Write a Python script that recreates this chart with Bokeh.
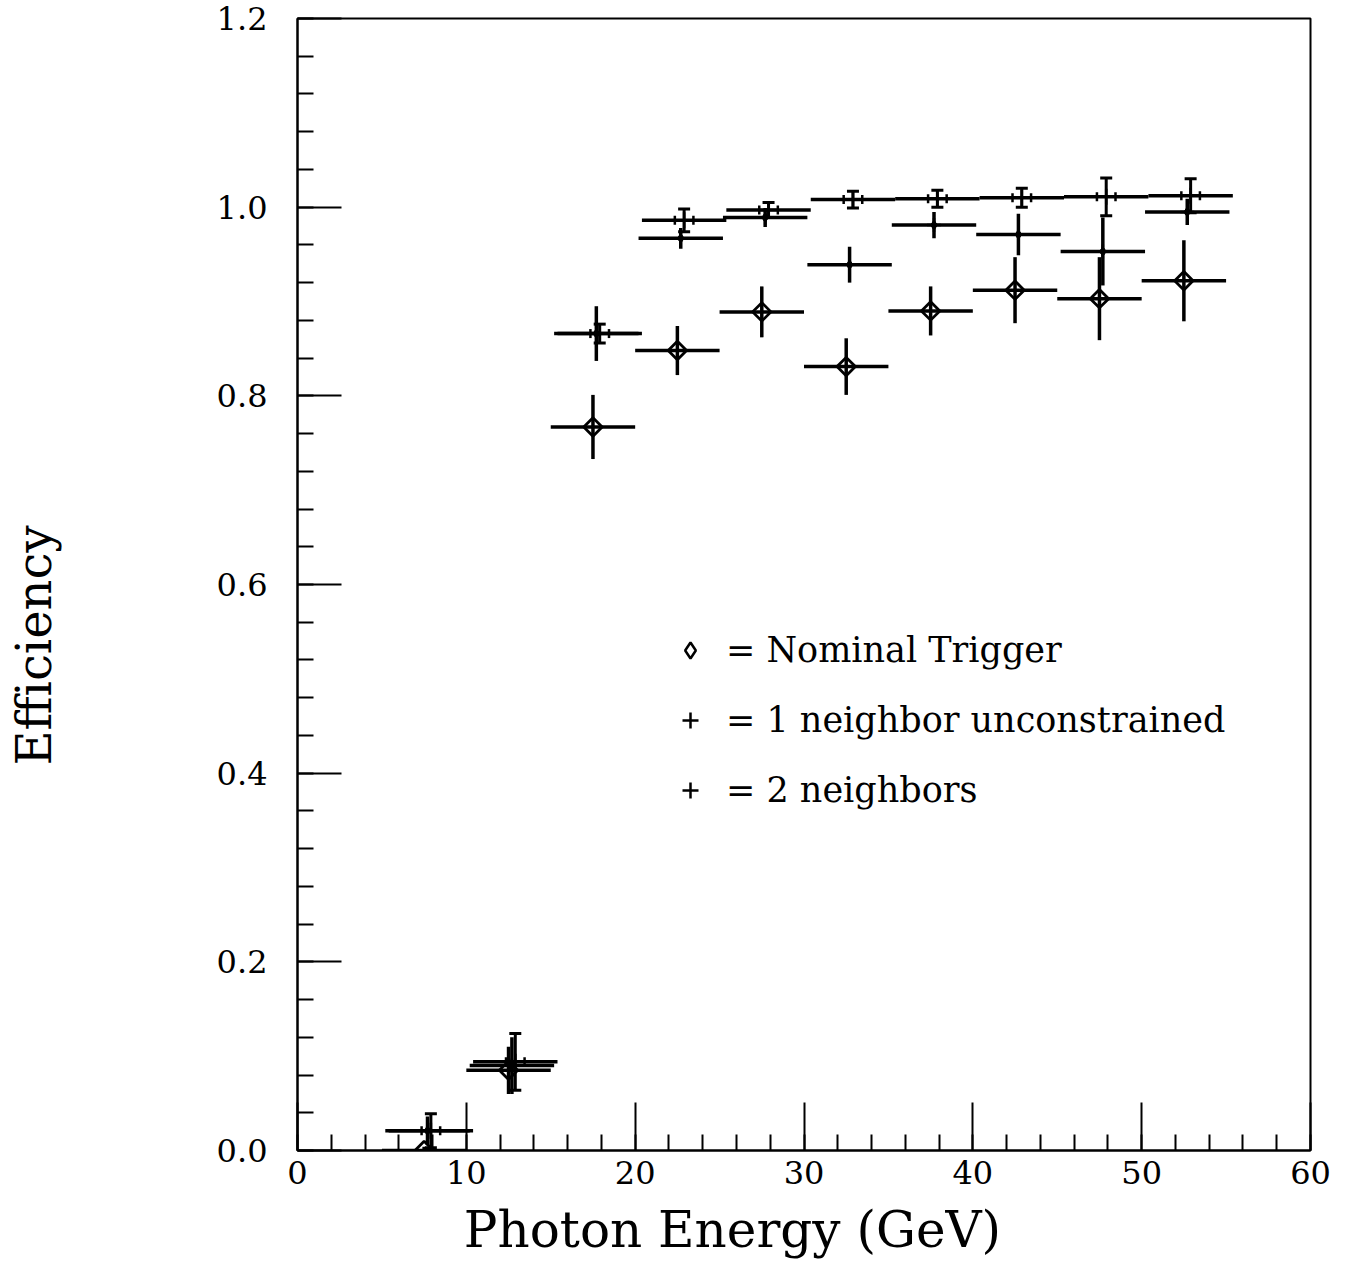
import math
from bokeh.plotting import figure
from bokeh.models import (Whisker, TeeHead, FixedTicker, PrintfTickFormatter,
                          Legend, LegendItem, ColumnDataSource)
from bokeh.embed import file_html
from bokeh.resources import INLINE

# ---- data ----
bin_half_width = 2.5

nominal_x = [7.5, 12.5, 17.5, 22.5, 27.5, 32.5, 37.5, 42.5, 47.5, 52.5]
nominal_y = [0.000, 0.085, 0.767, 0.848, 0.889, 0.831, 0.890, 0.912, 0.903, 0.922]
nominal_err = [0.004, 0.025, 0.034, 0.026, 0.027, 0.030, 0.026, 0.035, 0.044, 0.043]

one_x = [7.7, 12.7, 17.7, 22.7, 27.7, 32.7, 37.7, 42.7, 47.7, 52.7]
one_y = [0.021, 0.090, 0.866, 0.967, 0.989, 0.939, 0.981, 0.971, 0.953, 0.995]
one_err = [0.015, 0.030, 0.029, 0.011, 0.010, 0.019, 0.014, 0.022, 0.036, 0.014]

two_x = [7.9, 12.9, 17.9, 22.9, 27.9, 32.9, 37.9, 42.9, 47.9, 52.9]
two_y = [0.021, 0.094, 0.866, 0.986, 0.997, 1.008, 1.009, 1.010, 1.011, 1.012]
two_err = [0.018, 0.030, 0.010, 0.012, 0.008, 0.009, 0.009, 0.010, 0.020, 0.018]

x_ticks = [0, 10, 20, 30, 40, 50, 60]
y_ticks = [0.0, 0.2, 0.4, 0.6, 0.8, 1.0, 1.2]

x_label = "Photon Energy (GeV)"
y_label = "Efficiency"
legend_labels = ["= Nominal Trigger", "= 1 neighbor unconstrained", "= 2 neighbors"]

FONT = "DejaVu Serif"

x_minor = [i * 2 for i in range(31)]
y_minor = [round(i * 0.04, 4) for i in range(31)]


def src(xs, ys, es):
    return ColumnDataSource(dict(
        x=xs, y=ys,
        xl=[v - bin_half_width for v in xs], xr=[v + bin_half_width for v in xs],
        lo=[a - b for a, b in zip(ys, es)], hi=[a + b for a, b in zip(ys, es)],
        tl=[v - 0.55 for v in xs], tr=[v + 0.55 for v in xs],
    ))


s_nom = src(nominal_x, nominal_y, nominal_err)
s_one = src(one_x, one_y, one_err)
s_two = src(two_x, two_y, two_err)

p = figure(width=1346, height=1262, x_range=(0, 60), y_range=(0, 1.2),
           output_backend="svg", toolbar_location=None,
           min_border_left=297, min_border_right=36, min_border_top=18, min_border_bottom=112)
p.xgrid.grid_line_color = None
p.ygrid.grid_line_color = None
p.outline_line_color = "black"
p.outline_line_width = 2
p.background_fill_color = "white"
p.border_fill_color = "white"

LW = 3.5

# error bars
for s in (s_nom, s_one, s_two):
    p.segment(x0="xl", y0="y", x1="xr", y1="y", source=s, line_color="black", line_width=LW)
for s in (s_nom, s_one):
    p.segment(x0="x", y0="lo", x1="x", y1="hi", source=s, line_color="black", line_width=LW)

w = Whisker(base="x", lower="lo", upper="hi", source=s_two, dimension="height",
            line_color="black", line_width=3,
            upper_head=TeeHead(size=12, line_width=3, line_color="black"),
            lower_head=TeeHead(size=12, line_width=3, line_color="black"))
p.add_layout(w)

# markers
p.scatter("x", "y", source=s_nom, marker="square", size=13, angle=math.pi / 4,
          fill_alpha=0, line_color="black", line_width=2.8)
r_nom_leg = p.scatter("x", "y", source=s_nom, marker="diamond", size=17,
                      fill_alpha=0, line_color="black", line_width=2.5, visible=False)
r_one_cross = p.scatter("x", "y", source=s_one, marker="cross", size=14,
                        line_color="black", line_width=2.5)
p.scatter("x", "y", source=s_one, marker="diamond", size=10,
          fill_color="black", line_color="black")
r_two_cross = p.scatter("x", "y", source=s_two, marker="cross", size=16,
                        line_color="black", line_width=2.5)
p.scatter("tl", "y", source=s_two, marker="dash", size=9, angle=math.pi / 2,
          line_color="black", line_width=2.5)
p.scatter("tr", "y", source=s_two, marker="dash", size=9, angle=math.pi / 2,
          line_color="black", line_width=2.5)

# axes
p.xaxis.ticker = FixedTicker(ticks=x_ticks, minor_ticks=x_minor)
p.yaxis.ticker = FixedTicker(ticks=y_ticks, minor_ticks=y_minor)
p.yaxis.formatter = PrintfTickFormatter(format="%.1f")

for ax in (p.xaxis[0], p.yaxis[0]):
    ax.axis_line_color = "black"
    ax.axis_line_width = 2
    ax.major_tick_line_color = "black"
    ax.major_tick_line_width = 2
    ax.minor_tick_line_color = "black"
    ax.minor_tick_line_width = 2
    ax.major_tick_out = 0
    ax.minor_tick_out = 0
    ax.minor_tick_in = 16
    ax.major_label_text_font = FONT
    ax.major_label_text_font_size = "32px"
    ax.major_label_text_color = "black"
    ax.axis_label_text_font = FONT
    ax.axis_label_text_font_style = "normal"
    ax.axis_label_text_color = "black"

p.xaxis.major_tick_in = 48
p.yaxis.major_tick_in = 44
p.xaxis.major_label_standoff = 10
p.yaxis.major_label_standoff = 30

# axis titles sit off-centre in the reference: pad them with non-breaking spaces
p.yaxis.axis_label = y_label + "\u00a0" * 8
p.yaxis.axis_label_text_font_size = "48px"
p.yaxis.axis_label_standoff = 152

p.xaxis.axis_label = x_label + "\u00a0" * 9
p.xaxis.axis_label_text_font_size = "50px"
p.xaxis.axis_label_standoff = 14

legend = Legend(items=[
    LegendItem(label=legend_labels[0], renderers=[r_nom_leg]),
    LegendItem(label=legend_labels[1], renderers=[r_one_cross]),
    LegendItem(label=legend_labels[2], renderers=[r_two_cross]),
], location=(373, 340), orientation="vertical",
    glyph_width=40, glyph_height=40, label_height=40, spacing=30,
    padding=0, margin=0, label_standoff=16,
    border_line_color=None, background_fill_alpha=0,
    label_text_font=FONT, label_text_font_size="35px", label_text_color="black")
p.add_layout(legend, "center")

open("out.html", "w").write(file_html(p, INLINE))
